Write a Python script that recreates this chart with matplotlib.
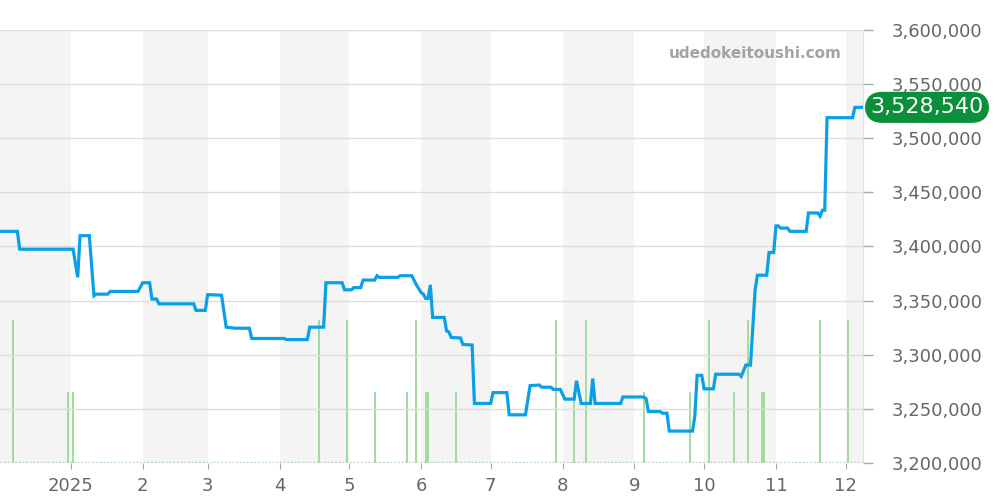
import numpy as np
import pandas as pd
import matplotlib
import matplotlib.pyplot as plt
import matplotlib.dates as mdates
import matplotlib.transforms as mtransforms
from matplotlib.ticker import FuncFormatter

matplotlib.use('Agg')

# price history (step-like daily quotes)
price_dates = [
    '2024-12-02', '2024-12-09', '2024-12-10', '2025-01-02', '2025-01-04', '2025-01-05',
    '2025-01-09', '2025-01-11', '2025-01-12', '2025-01-17', '2025-01-18', '2025-01-30',
    '2025-02-01', '2025-02-04', '2025-02-05', '2025-02-07', '2025-02-08', '2025-02-23',
    '2025-02-24', '2025-02-28', '2025-03-01', '2025-03-07', '2025-03-09', '2025-03-13',
    '2025-03-19', '2025-03-20', '2025-04-03', '2025-04-04', '2025-04-13', '2025-04-14',
    '2025-04-20', '2025-04-21', '2025-04-28', '2025-04-29', '2025-05-02', '2025-05-03',
    '2025-05-06', '2025-05-07', '2025-05-12', '2025-05-13', '2025-05-14', '2025-05-22',
    '2025-05-23', '2025-05-28', '2025-05-30', '2025-06-01', '2025-06-02', '2025-06-03',
    '2025-06-04', '2025-06-05', '2025-06-06', '2025-06-11', '2025-06-12', '2025-06-13',
    '2025-06-14', '2025-06-18', '2025-06-19', '2025-06-23', '2025-06-24', '2025-07-01',
    '2025-07-02', '2025-07-08', '2025-07-09', '2025-07-16', '2025-07-18', '2025-07-22',
    '2025-07-23', '2025-07-27', '2025-07-28', '2025-07-31', '2025-08-02', '2025-08-06',
    '2025-08-07', '2025-08-09', '2025-08-13', '2025-08-14', '2025-08-15', '2025-08-26',
    '2025-08-27', '2025-09-05', '2025-09-06', '2025-09-07', '2025-09-12', '2025-09-13',
    '2025-09-15', '2025-09-16', '2025-09-26', '2025-09-27', '2025-09-28', '2025-09-30',
    '2025-10-01', '2025-10-05', '2025-10-06', '2025-10-16', '2025-10-17', '2025-10-19',
    '2025-10-21', '2025-10-23', '2025-10-24', '2025-10-28', '2025-10-29', '2025-10-31',
    '2025-11-01', '2025-11-02', '2025-11-03', '2025-11-06', '2025-11-07', '2025-11-14',
    '2025-11-15', '2025-11-19', '2025-11-20', '2025-11-21', '2025-11-22', '2025-11-23',
    '2025-12-04', '2025-12-05', '2025-12-08',
]
price_values = [
    3414000, 3414000, 3397500, 3397500, 3371500, 3410000,
    3410000, 3354500, 3356000, 3356000, 3358500, 3358500,
    3366500, 3366500, 3351500, 3351500, 3347000, 3347000,
    3341000, 3341000, 3355500, 3355000, 3325500, 3324500,
    3324500, 3315000, 3315000, 3314000, 3314000, 3325500,
    3325500, 3366500, 3366500, 3360000, 3360000, 3362000,
    3362000, 3369000, 3369000, 3373000, 3371500, 3371500,
    3373000, 3373000, 3364500, 3357500, 3356000, 3352000,
    3352000, 3364500, 3334500, 3334500, 3322000, 3321000,
    3316000, 3315500, 3309500, 3309000, 3255000, 3255000,
    3265000, 3265000, 3244500, 3244500, 3271500, 3272000,
    3270000, 3270000, 3268000, 3268000, 3259000, 3259000,
    3276000, 3255000, 3255000, 3278000, 3255000, 3255000,
    3261000, 3261000, 3259500, 3247500, 3247500, 3246000,
    3246000, 3229500, 3229500, 3243000, 3281000, 3281000,
    3268500, 3268500, 3282000, 3282000, 3280000, 3290500,
    3290500, 3360000, 3373500, 3373500, 3394500, 3394500,
    3419000, 3419000, 3417000, 3417000, 3414000, 3414000,
    3431000, 3431000, 3428000, 3433500, 3433500, 3519000,
    3519000, 3528540, 3528540,
]

# number of transactions per day
vol_dates = [
    '2024-12-07', '2024-12-31', '2025-01-02', '2025-04-18', '2025-04-30', '2025-05-12',
    '2025-05-26', '2025-05-30', '2025-06-03', '2025-06-04', '2025-06-16', '2025-07-29',
    '2025-08-06', '2025-08-11', '2025-09-05', '2025-09-25', '2025-10-03', '2025-10-14',
    '2025-10-20', '2025-10-26', '2025-10-27', '2025-11-20', '2025-12-02',
]
vol_counts = [2, 1, 1, 2, 2, 1, 1, 2, 1, 1, 1, 2, 1, 2, 1, 1, 2, 1, 2, 1, 1, 2, 2]

x_start = pd.Timestamp('2024-12-01 12:00')
x_end = pd.Timestamp('2025-12-08 12:00')
last_price = price_values[-1]

fig = plt.figure(figsize=(10, 5), dpi=100)
ax = fig.add_axes([0.0, 0.074, 0.863, 0.866])  # volume axis (behind)
axp = ax.twinx()  # price axis, labels on the right

# alternate month shading
months = pd.date_range('2024-12-01', '2026-01-01', freq='MS')
for i in range(len(months) - 1):
    if i % 2 == 0:
        ax.axvspan(months[i], months[i + 1], color='#f4f4f4', lw=0, zorder=0)

# volume bars
vd = pd.to_datetime(vol_dates)
ax.vlines(vd, 0, vol_counts, color='#9ad89a', lw=1.3, zorder=2)
ax.plot([x_start, x_end], [0.02, 0.02], color='#9ad89a', lw=1, ls=':', zorder=2)
ax.set_ylim(0, 2 * 433 / 143)
ax.set_yticks([])

# price line
axp.plot(pd.to_datetime(price_dates), price_values, color='#0aa0e6', lw=2.3,
         solid_joinstyle='miter', zorder=5)
axp.set_ylim(3200000, 3600000)
axp.set_yticks(np.arange(3200000, 3600001, 50000))
axp.yaxis.set_major_formatter(FuncFormatter(lambda v, p: f'{v:,.0f}'))
axp.grid(axis='y', color='#dddddd', lw=1)
axp.set_axisbelow(True)
axp.tick_params(axis='y', length=7, width=1, color='#aaaaaa', pad=14,
                labelsize=13, labelcolor='#666666')

ax.set_xlim(x_start, x_end)
ax.xaxis.set_major_locator(mdates.MonthLocator())
ax.xaxis.set_major_formatter(FuncFormatter(
    lambda v, p: str(mdates.num2date(v).year) if mdates.num2date(v).month == 1
    else str(mdates.num2date(v).month)))
ax.tick_params(axis='x', length=4, color='#aaaaaa', pad=6, labelsize=13, labelcolor='#666666')

for a in (ax, axp):
    for s in ('top', 'left', 'bottom'):
        a.spines[s].set_visible(False)
    a.spines['right'].set_color('#e2e2e2')

# watermark
axp.text(0.975, 0.945, 'udedokeitoushi.com', transform=ax.transAxes, ha='right', va='center',
         fontsize=11, fontweight='bold', color='#a3a3a3', zorder=6)

# last price badge
tr = mtransforms.blended_transform_factory(fig.transFigure, axp.transData)
axp.text(0.927, last_price, f'{last_price:,}', transform=tr, ha='center', va='center',
         fontsize=16, color='white', clip_on=False, zorder=10,
         bbox=dict(boxstyle='round,pad=0.25,rounding_size=0.8', fc='#0b8f3b', ec='none'))

fig.savefig('out.png', dpi=100)
